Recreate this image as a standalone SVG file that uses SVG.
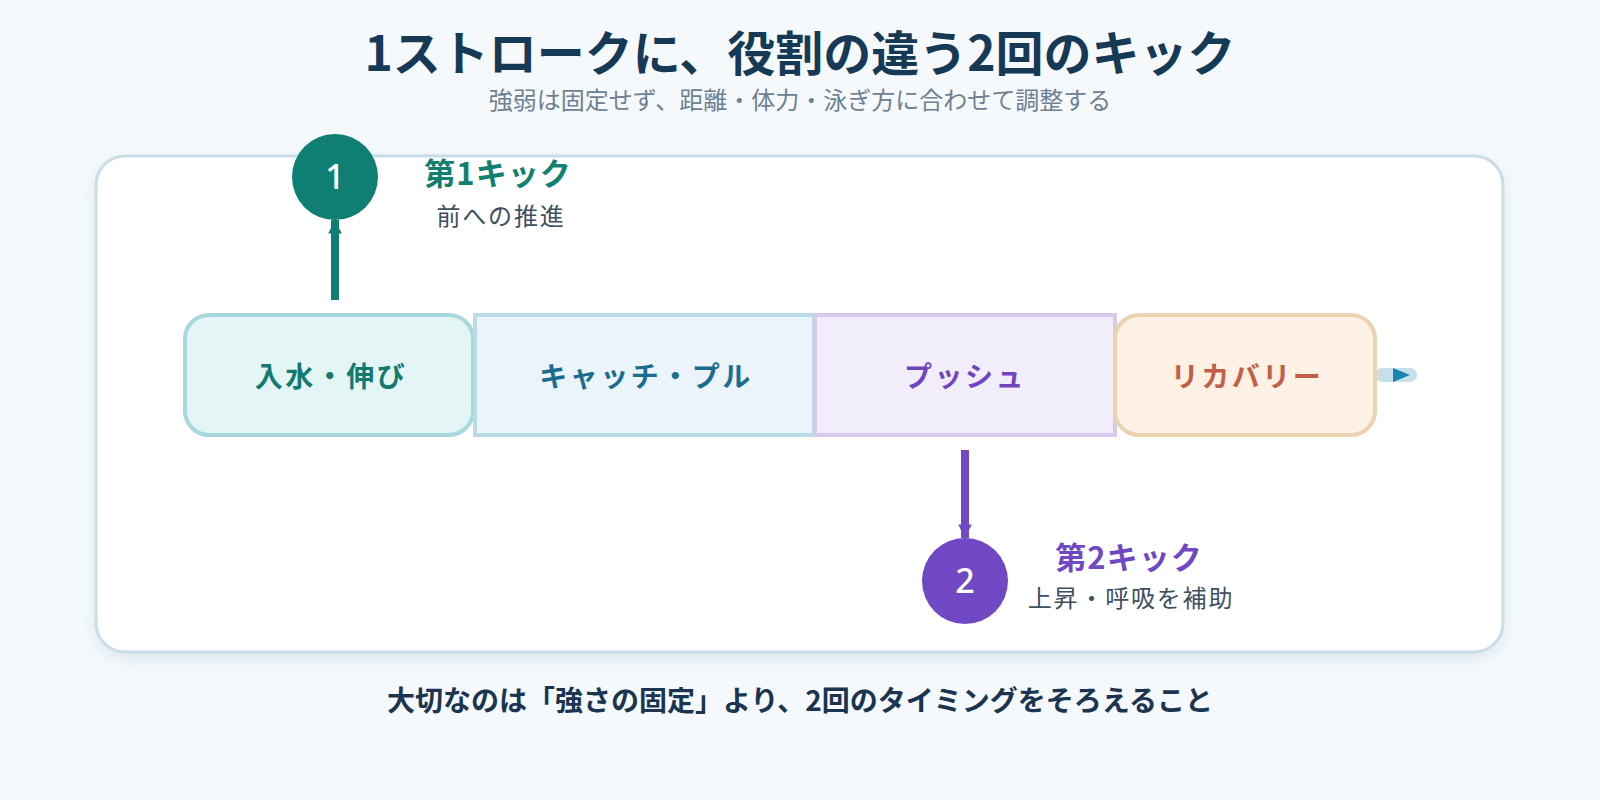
<svg xmlns="http://www.w3.org/2000/svg" width="1600" height="800" viewBox="0 0 1600 800">
<defs>
<style>
text{font-family:"Noto Sans CJK JP","Noto Sans",sans-serif;}
.title{font-size:48px;font-weight:700;fill:#163a56;text-anchor:middle;}
.sub{font-size:24px;fill:#6d8193;text-anchor:middle;}
.foot{font-size:28px;font-weight:700;fill:#1b3550;text-anchor:middle;}
.lbl{font-size:28px;font-weight:700;text-anchor:middle;letter-spacing:2.5px;}
.khead{font-size:31px;font-weight:700;text-anchor:middle;letter-spacing:1px;}
.kdesc{font-size:24px;fill:#3d4f60;text-anchor:middle;letter-spacing:1.8px;}
.num{font-size:34px;font-weight:500;fill:#ffffff;text-anchor:middle;font-family:"Noto Sans","Noto Sans CJK JP",sans-serif;}
</style>
<filter id="sh" x="-5%" y="-5%" width="110%" height="115%">
<feDropShadow dx="0" dy="6" stdDeviation="8" flood-color="#9bb7c8" flood-opacity="0.25"/>
</filter>
<marker id="mTeal" viewBox="0 0 10 10" refX="10" refY="5" markerWidth="1.7" markerHeight="1.7" orient="auto" markerUnits="strokeWidth">
<path d="M0,0 L10,5 L0,10 Z" fill="#0f7f73"/>
</marker>
<marker id="mPurp" viewBox="0 0 10 10" refX="10" refY="5" markerWidth="1.7" markerHeight="1.7" orient="auto" markerUnits="strokeWidth">
<path d="M0,0 L10,5 L0,10 Z" fill="#7048c4"/>
</marker>
</defs>
<rect width="1600" height="800" fill="#f5f9fc"/>
<g id="header">
<text class="title" x="800" y="71">1ストロークに、役割の違う2回のキック</text>
<text class="sub" x="800" y="109">強弱は固定せず、距離・体力・泳ぎ方に合わせて調整する</text>
</g>
<g id="panel">
<rect x="96" y="156" width="1407" height="496" rx="29" fill="#ffffff" stroke="#c9dde6" stroke-width="3" filter="url(#sh)"/>
</g>
<g id="connectors">
<line x1="335" y1="300" x2="335" y2="220" stroke="#0f7f73" stroke-width="8" marker-end="url(#mTeal)"/>
<line x1="965" y1="450" x2="965" y2="538" stroke="#7048c4" stroke-width="8" marker-end="url(#mPurp)"/>
<line x1="1382" y1="375" x2="1410" y2="375" stroke="#c6dfe8" stroke-width="14" stroke-linecap="round"/>
<path d="M1393,368 L1410,375 L1393,382 Z" fill="#1a85b0"/>
</g>
<g id="node-entry">
<rect x="185" y="315" width="288" height="120" rx="24" fill="#e3f5f5" stroke="#a7d8de" stroke-width="4"/>
<text class="lbl" x="331" y="387" fill="#147a70">入水・伸び</text>
</g>
<g id="node-catch">
<rect x="475" y="315" width="339" height="120" fill="#ebf4fa" stroke="#b9dbe6" stroke-width="4"/>
<text class="lbl" x="646" y="387" fill="#1a6d8f">キャッチ・プル</text>
</g>
<g id="node-push">
<rect x="815" y="315" width="300" height="120" fill="#f2edfb" stroke="#d6c9ec" stroke-width="4"/>
<text class="lbl" x="965" y="387" fill="#7045c0">プッシュ</text>
</g>
<g id="node-recovery">
<rect x="1115" y="315" width="260" height="120" rx="24" fill="#fdf0e4" stroke="#ebd2b0" stroke-width="4"/>
<text class="lbl" x="1247" y="387" fill="#c06048">リカバリー</text>
</g>
<g id="kick1">
<circle cx="335" cy="177" r="43" fill="#0f7f73"/>
<text class="num" x="335" y="189">1</text>
<text class="khead" x="498" y="185" fill="#128070">第1キック</text>
<text class="kdesc" x="501" y="225">前への推進</text>
</g>
<g id="kick2">
<circle cx="965" cy="581" r="43" fill="#7048c4"/>
<text class="num" x="965" y="593">2</text>
<text class="khead" x="1129" y="569" fill="#7048c4">第2キック</text>
<text class="kdesc" x="1131" y="607">上昇・呼吸を補助</text>
</g>
<g id="footer">
<text class="foot" x="800" y="711">大切なのは「強さの固定」より、2回のタイミングをそろえること</text>
</g>
</svg>
